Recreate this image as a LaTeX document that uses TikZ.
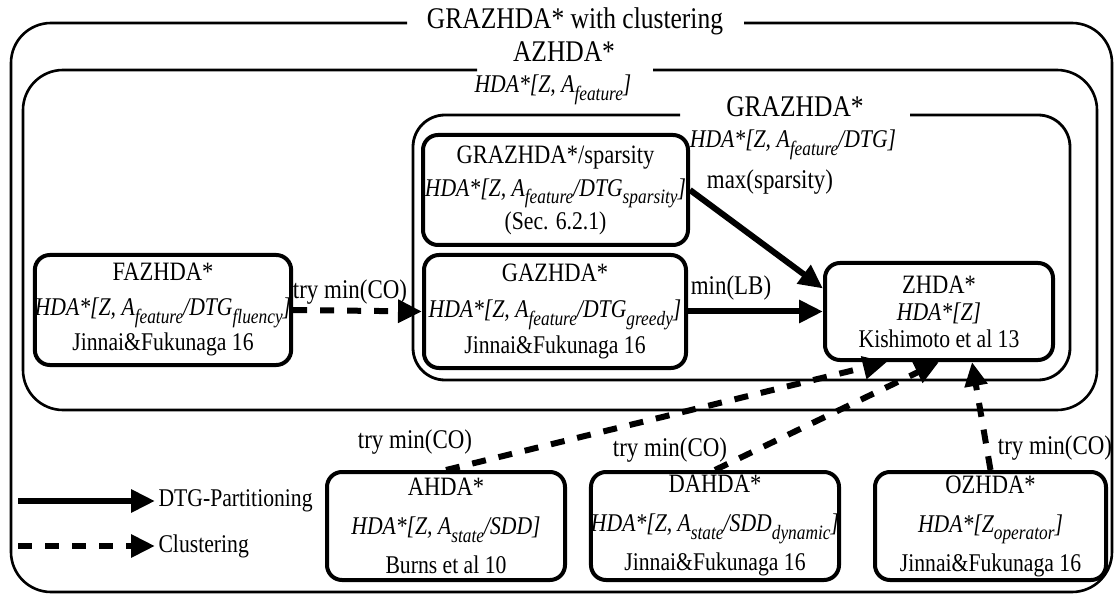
\documentclass[tikz,border=0pt]{standalone}
\usepackage{graphicx}
\usepackage{fontspec}
\setmainfont{Liberation Serif}[FakeStretch=0.85]
\usetikzlibrary{arrows.meta}

% subscript inside the italic signatures
\newcommand\sbs[1]{\raisebox{-0.3em}{\scalebox{0.8}{#1}}}
% slightly larger first line in each algorithm box
\newcommand\algname[1]{{\fontsize{26.5}{30}\selectfont #1}}

\tikzset{
  cluster/.style={line width=2.6pt, rounded corners=40pt},
  innercluster/.style={line width=2.8pt, rounded corners=32pt},
  algbox/.style={draw, line width=4pt, rounded corners=15pt, align=center,
                 inner sep=0pt},
  boxfont/.style={font=\fontsize{25.5}{#1}\selectfont},
  ctitle/.style={font=\fontsize{30}{32}\selectfont, anchor=base},
  csub/.style={font=\fontsize{25.5}{28}\selectfont\itshape, anchor=base},
  conn/.style={line width=6pt, -{Triangle[length=24pt,width=22pt]}},
  clust/.style={conn, dash pattern=on 14pt off 13pt},
  elabel/.style={font=\fontsize{27}{28}\selectfont},
  legend/.style={font=\fontsize{25.5}{28}\selectfont, anchor=west},
}

\begin{document}
\begin{tikzpicture}[x=1pt, y=-1pt]
\useasboundingbox (0,0) rectangle (1120,596);

% ---- nested clusters, each with a gap in its top edge for the title ----
\draw[cluster] (744,23) -- (1112,23) -- (1112,592) -- (11,592) -- (11,23) -- (407,23);
\node[ctitle] (outer-title) at (575,29) {GRAZHDA* with clustering};

\draw[cluster] (653,70) -- (1097,70) -- (1097,410) -- (23,410) -- (23,70) -- (477,70);
\node[ctitle] (az-title) at (564,62) {AZHDA*};
\node[csub] (az-sub) at (553,93) {HDA*[Z, A\sbs{feature}]};

\draw[innercluster] (910,115) -- (1070,115) -- (1070,380) -- (413,380) -- (413,115) -- (680,115);
\node[ctitle] (gr-title) at (795,117) {GRAZHDA*};
\node[csub] (gr-sub) at (793,148) {HDA*[Z, A\sbs{feature}/DTG]};

% ---- algorithm boxes ----
\node[algbox, boxfont=35, minimum width=256pt, minimum height=110pt] (fa) at (163,310)
  {\algname{FAZHDA*}\\ \textit{HDA*[Z, A\sbs{feature}/DTG\sbs{fluency}]}\\ Jinnai\&Fukunaga 16};
\node[algbox, boxfont=36, minimum width=262pt, minimum height=113pt] (ga) at (555,311.5)
  {\algname{GAZHDA*}\\ \textit{HDA*[Z, A\sbs{feature}/DTG\sbs{greedy}]}\\ Jinnai\&Fukunaga 16};
\node[algbox, boxfont=33, minimum width=265pt, minimum height=110pt] (sp) at (555.5,190)
  {\algname{GRAZHDA*/sparsity}\\ \textit{HDA*[Z, A\sbs{feature}/DTG\sbs{sparsity}]}\\ (Sec. 6.2.1)};
\node[algbox, boxfont=27, minimum width=228pt, minimum height=97pt] (z) at (939,311.5)
  {\algname{ZHDA*}\\ \textit{HDA*[Z]}\\ Kishimoto et al 13};
\node[algbox, boxfont=39, minimum width=238pt, minimum height=108pt] (a) at (446,526)
  {\algname{AHDA*}\\ \textit{HDA*[Z, A\sbs{state}/SDD]}\\ Burns et al 10};
\node[algbox, boxfont=39, minimum width=246pt, minimum height=108pt] (da) at (715,526)
  {\algname{DAHDA*}\\ \textit{HDA*[Z, A\sbs{state}/SDD\sbs{dynamic}]}\\ Jinnai\&Fukunaga 16};
\node[algbox, boxfont=39, minimum width=231pt, minimum height=108pt] (oz) at (990.5,526)
  {\algname{OZHDA*}\\ \textit{HDA*[Z\sbs{operator}]}\\ Jinnai\&Fukunaga 16};

% ---- connectors ----
\draw[clust] (fa.east) -- (ga.west);
\node[elabel] (fa-lab) at (350,292) {try min(CO)};

\draw[conn] (ga.east) -- (z.west);
\node[elabel] (ga-lab) at (731,288) {min(LB)};

\draw[conn] (sp.east) -- ([yshift=23pt]z.west);
\node[elabel] (sp-lab) at (770,182) {max(sparsity)};

\draw[clust] (a.north) -- ([xshift=-52pt]z.south);
\node[elabel] (a-lab) at (415,442) {try min(CO)};

\draw[clust] (da.north) -- (z.south);
\node[elabel] (da-lab) at (670,450) {try min(CO)};

\draw[clust] (oz.north) -- ([xshift=33pt]z.south);
\node[elabel] (oz-lab) at (1055,448) {try min(CO)};

% ---- legend ----
\coordinate (leg1) at (18,501);
\node[legend] (leg1-t) at (155,501) {DTG-Partitioning};
\draw[conn] (leg1) -- (leg1-t.west);

\coordinate (leg2) at (18,546);
\node[legend] (leg2-t) at (155,546) {Clustering};
\draw[clust] (leg2) -- (leg2-t.west);
\end{tikzpicture}
\end{document}
